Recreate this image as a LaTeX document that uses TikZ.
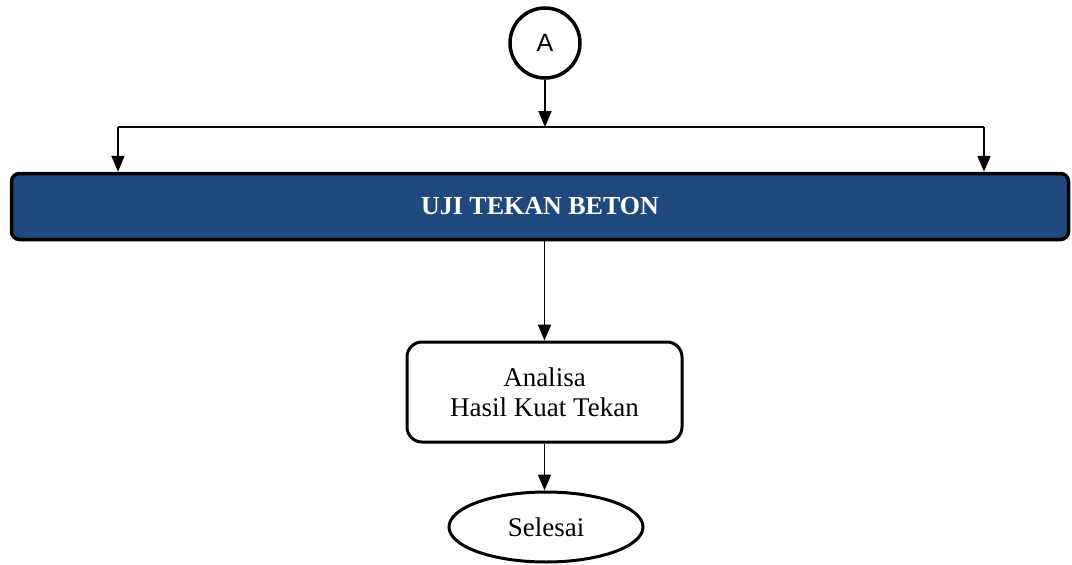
\documentclass[tikz,border=0pt]{standalone}
\usepackage{fontspec}
\setmainfont{Liberation Serif}
\newfontfamily\arialfont{Liberation Sans}
\usetikzlibrary{arrows.meta,shapes.geometric}
\definecolor{barblue}{RGB}{31,73,125}
\tikzset{
  arr/.style={line width=1.9pt,-{Triangle[length=16pt,width=13pt]}},
  conn/.style={line width=1.9pt},
  txt/.style={font=\fontsize{27}{30}\selectfont},
}
\begin{document}
\begin{tikzpicture}[x=1pt,y=-1pt]
\useasboundingbox (0,0) rectangle (1072,565);
\node[circle,draw,line width=3.5pt,minimum size=70pt,inner sep=0pt,font=\arialfont\fontsize{25}{28}\selectfont] (A) at (545,43) {A};
\coordinate (J) at (545,127);
\coordinate (L) at (118,127);
\coordinate (R) at (984,127);
\node[draw,line width=3.5pt,fill=barblue,rounded corners=8pt,minimum width=1057pt,minimum height=66pt,inner sep=0pt,text=white,font=\bfseries\fontsize{26}{30}\selectfont] (bar) at (540,206.5) {UJI TEKAN BETON};
\node[draw,line width=3pt,rounded corners=15pt,minimum width=275pt,minimum height=100pt,align=center,txt] (box) at (544.5,392) {Analisa\\Hasil Kuat Tekan};
\node[ellipse,draw,line width=3pt,minimum width=194pt,minimum height=70pt,inner sep=0pt,txt] (sel) at (546,527) {Selesai};
\draw[arr] (A.south) -- (J);
\draw[conn] (L) -- (R);
\draw[arr] (L) -- (L |- bar.north);
\draw[arr] (R) -- (R |- bar.north);
\draw[arr] (bar.south -| box.north) -- (box.north);
\draw[arr] (box.south) -- (box.south |- sel.north);
\end{tikzpicture}
\end{document}
